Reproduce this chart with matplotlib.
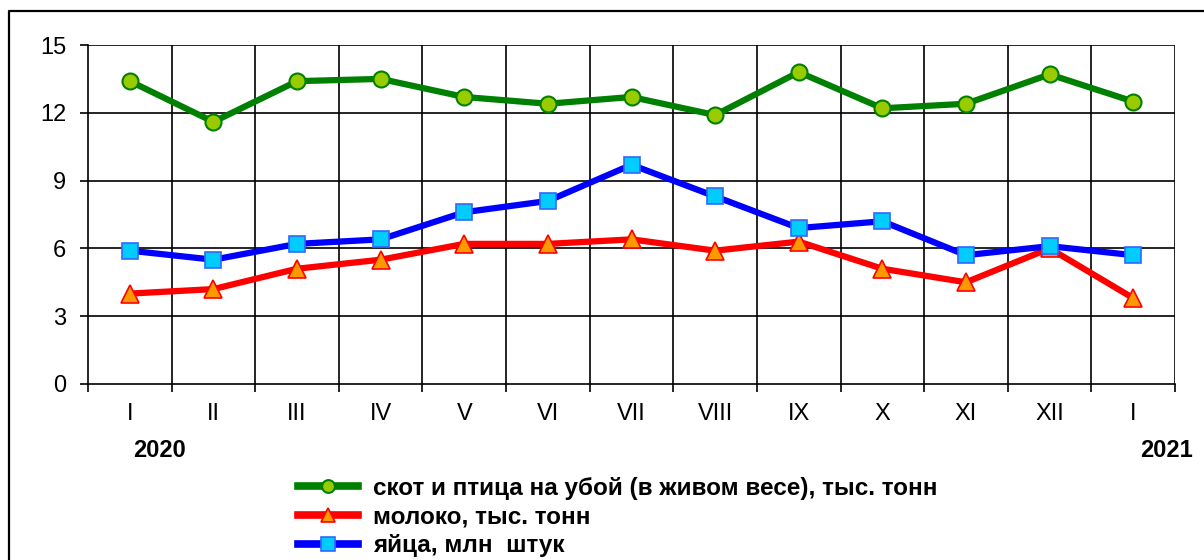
import matplotlib
matplotlib.use("Agg")
import matplotlib.pyplot as plt
from matplotlib.lines import Line2D
from matplotlib.ticker import FixedLocator, NullFormatter

plt.rcParams['font.family'] = ['Liberation Sans', 'DejaVu Sans']

months = ["I", "II", "III", "IV", "V", "VI", "VII", "VIII", "IX", "X", "XI", "XII", "I"]
livestock = [13.4, 11.6, 13.4, 13.5, 12.7, 12.4, 12.7, 11.9, 13.8, 12.2, 12.4, 13.7, 12.5]
milk = [4.0, 4.2, 5.1, 5.5, 6.2, 6.2, 6.4, 5.9, 6.3, 5.1, 4.5, 6.0, 3.8]
eggs = [5.9, 5.5, 6.2, 6.4, 7.6, 8.1, 9.7, 8.3, 6.9, 7.2, 5.7, 6.1, 5.7]
labels = ["скот и птица на убой (в живом весе), тыс. тонн",
          "молоко, тыс. тонн",
          "яйца, млн  штук"]
years = ["2020", "2021"]
yticks = [0, 3, 6, 9, 12, 15]

fig = plt.figure(figsize=(12.04, 5.6), dpi=100)
# outer frame: only left and top edges visible
fig.add_artist(Line2D([9/1204, 9/1204, 1.0], [0.0, 1 - 11/560, 1 - 11/560],
                      transform=fig.transFigure, color='black', lw=1.6))
ax = fig.add_axes([88/1204, 1 - 384/560, (1175-88)/1204, (384-45)/560])

x = list(range(len(months)))
l1, = ax.plot(x, livestock, color='#008000', lw=4.5, marker='o', ms=11.5,
              mfc='#99CC00', mec='#008000', mew=1.5, zorder=4)
l2, = ax.plot(x, milk, color='#FF0000', lw=4.5, marker='^', ms=13,
              mfc='#FF9900', mec='#FF0000', mew=1.2, zorder=3)
l3, = ax.plot(x, eggs, color='#0000FF', lw=4.5, marker='s', ms=12,
              mfc='#00CCFF', mec='#3366FF', mew=1.2, zorder=5)

ax.set_xlim(-0.5, len(months) - 0.5)
ax.set_ylim(0, 15)
ax.set_yticks(yticks)
ax.set_xticks(x)
ax.set_xticklabels(months)
ax.xaxis.set_minor_locator(FixedLocator([i - 0.5 for i in range(len(months) + 1)]))
ax.xaxis.set_minor_formatter(NullFormatter())
ax.tick_params(axis='x', which='major', length=0, pad=14, labelsize=17)
ax.tick_params(axis='x', which='minor', length=5.8, width=1.2, direction='out')
ax.tick_params(axis='y', length=5.8, width=1.2, direction='out', labelsize=17, pad=10)

for yv in yticks[1:]:
    ax.axhline(yv, color='black', lw=1.2, zorder=1)
for i in range(1, len(months) + 1):
    ax.axvline(i - 0.5, color='black', lw=1.2, zorder=1)

for s in ['top', 'right']:
    ax.spines[s].set_visible(False)
ax.spines['left'].set_linewidth(1.2)
ax.spines['bottom'].set_linewidth(1.2)

ax.text(0.36, -0.197, years[0], transform=ax.get_xaxis_transform(),
        ha='center', va='center', fontsize=17, fontweight='bold')
ax.text(12.4, -0.197, years[1], transform=ax.get_xaxis_transform(),
        ha='center', va='center', fontsize=17, fontweight='bold')

leg = fig.legend([l1, l2, l3], labels, loc='upper left',
                 bbox_to_anchor=(298/1204, 1 - 477/560), frameon=False,
                 prop={'weight': 'bold', 'size': 17.5}, handlelength=2.47,
                 handletextpad=0.62, labelspacing=0.23, borderaxespad=0,
                 borderpad=0, markerscale=0.8)
for h in leg.legend_handles:
    h.set_linewidth(5.5)

fig.savefig("out.png", dpi=100)
